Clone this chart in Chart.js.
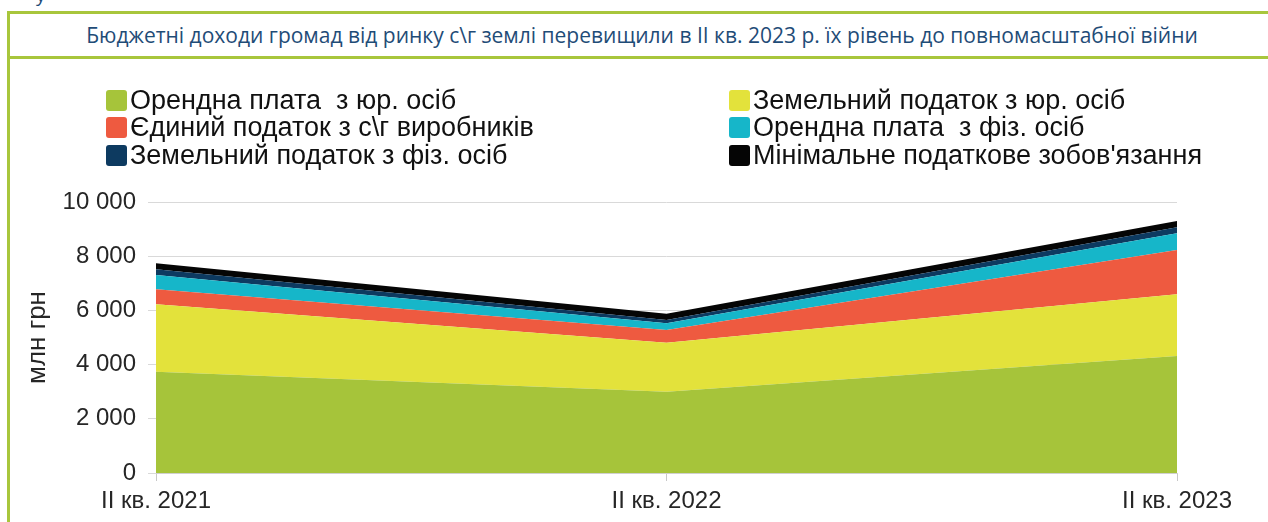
<!DOCTYPE html>
<html>
<head>
<meta charset="utf-8">
<script src="https://cdn.jsdelivr.net/npm/chart.js@4.4.0/dist/chart.umd.min.js"></script>
<style>
  html, body { margin: 0; padding: 0; background: #ffffff; }
  body { width: 1268px; height: 522px; position: relative; overflow: hidden; font-family: "Liberation Sans", Arial, sans-serif; }
  #frame { position: absolute; left: 7px; top: 11px; width: 1261px; height: 520px; border-left: 3px solid #a8c63c; border-top: 3px solid #a8c63c; box-sizing: border-box; }
  #titlebar { position: absolute; left: 10px; top: 14px; width: 1258px; height: 42px; border-bottom: 3px solid #a8c63c; display: flex; align-items: center; justify-content: center; }
  #title { font-family: "Open Sans", "Inter", sans-serif; font-size: 21px; color: #1f4c77; white-space: nowrap; margin-left: 6px; }
  #frag { position: absolute; left: 36px; top: -18px; font-family: "Open Sans", sans-serif; font-size: 19px; color: #1f4c77; }
  #chartwrap { position: absolute; left: 0; top: 0; width: 1268px; height: 522px; }
  .leg { position: absolute; display: flex; align-items: center; font-family: "Liberation Sans", Arial, sans-serif; font-size: 27px; color: #111; white-space: pre; }
  .sw { width: 21px; height: 21px; border-radius: 3px; margin-right: 3px; }
</style>
</head>
<body>
<div id="frag">у</div>
<div id="frame"></div>
<div id="titlebar"><span id="title">Бюджетні доходи громад від ринку с\г землі перевищили в ІІ кв. 2023 р. їх рівень до повномасштабної війни</span></div>
<div id="chartwrap"><canvas id="c" width="1268" height="522"></canvas></div>
<div id="legend"></div>
<script>
const categories = ["ІІ кв. 2021", "ІІ кв. 2022", "ІІ кв. 2023"];
const seriesNames = [
  "Орендна плата  з юр. осіб",
  "Земельний податок з юр. осіб",
  "Єдиний податок з с\\г виробників",
  "Орендна плата  з фіз. осіб",
  "Земельний податок з фіз. осіб",
  "Мінімальне податкове зобов'язання"
];
const rentLegal      = [3740, 3000, 4320];
const landTaxLegal   = [2490, 1810, 2280];
const singleTax      = [550, 470, 1630];
const rentIndividual = [530, 250, 620];
const landTaxIndiv   = [210, 120, 220];
const minTaxLiab     = [220, 230, 230];
const seriesColors = ["#a6c43a", "#e3e23b", "#ee5a40", "#16b6c9", "#0d3a60", "#050505"];
const yTicks = [0, 2000, 4000, 6000, 8000, 10000];

const allSeries = [rentLegal, landTaxLegal, singleTax, rentIndividual, landTaxIndiv, minTaxLiab];

// HTML legend in two columns (order as in reference)
const legendLayout = [
  {i: 0, x: 106, y: 100}, {i: 1, x: 729, y: 100},
  {i: 2, x: 106, y: 127.5}, {i: 3, x: 729, y: 127.5},
  {i: 4, x: 106, y: 155}, {i: 5, x: 729, y: 155}
];
const legendEl = document.getElementById('legend');
legendLayout.forEach(p => {
  const d = document.createElement('div');
  d.className = 'leg';
  d.style.left = p.x + 'px';
  d.style.top = (p.y - 15) + 'px';
  d.style.height = '30px';
  const sw = document.createElement('span');
  sw.className = 'sw';
  sw.style.background = seriesColors[p.i];
  const t = document.createElement('span');
  t.textContent = seriesNames[p.i];
  d.appendChild(sw); d.appendChild(t);
  legendEl.appendChild(d);
});

function fmt(v) { return String(v).replace(/\B(?=(\d{3})+(?!\d))/g, ' '); }

const datasets = allSeries.map((arr, k) => ({
  label: seriesNames[k],
  data: arr,
  backgroundColor: seriesColors[k],
  borderColor: seriesColors[k],
  borderWidth: 0,
  pointRadius: 0,
  tension: 0,
  fill: k === 0 ? 'origin' : '-1'
}));

new Chart(document.getElementById('c'), {
  type: 'line',
  data: { labels: categories, datasets },
  options: {
    responsive: false,
    animation: false,
    devicePixelRatio: 1,
    layout: { padding: { left: 20, right: 91, top: 202, bottom: 0 } },
    plugins: { legend: { display: false }, title: { display: false }, tooltip: { enabled: false } },
    scales: {
      x: {
        type: 'category',
        offset: false,
        grid: { drawOnChartArea: false, drawTicks: true, tickLength: 8, color: '#c8c8c8' },
        border: { display: true, color: '#d0d0d0' },
        ticks: { color: '#262626', font: { family: 'Liberation Sans', size: 24 }, padding: 6, maxRotation: 0, autoSkip: false },
        afterFit: s => { s.height = 49; }
      },
      y: {
        stacked: true,
        min: 0, max: 10000,
        afterBuildTicks: s => { s.ticks = yTicks.map(v => ({ value: v })); },
        grid: { color: '#d9d9d9', tickLength: 8, drawTicks: true },
        border: { display: false },
        ticks: { color: '#262626', font: { family: 'Liberation Sans', size: 24 }, padding: 12, callback: v => fmt(v) },
        title: { display: true, text: 'млн грн', color: '#262626', font: { family: 'Liberation Sans', size: 26 }, padding: { top: 2, bottom: 0 } },
        afterFit: s => { s.width = 136; }
      }
    }
  }
});
</script>
</body>
</html>
